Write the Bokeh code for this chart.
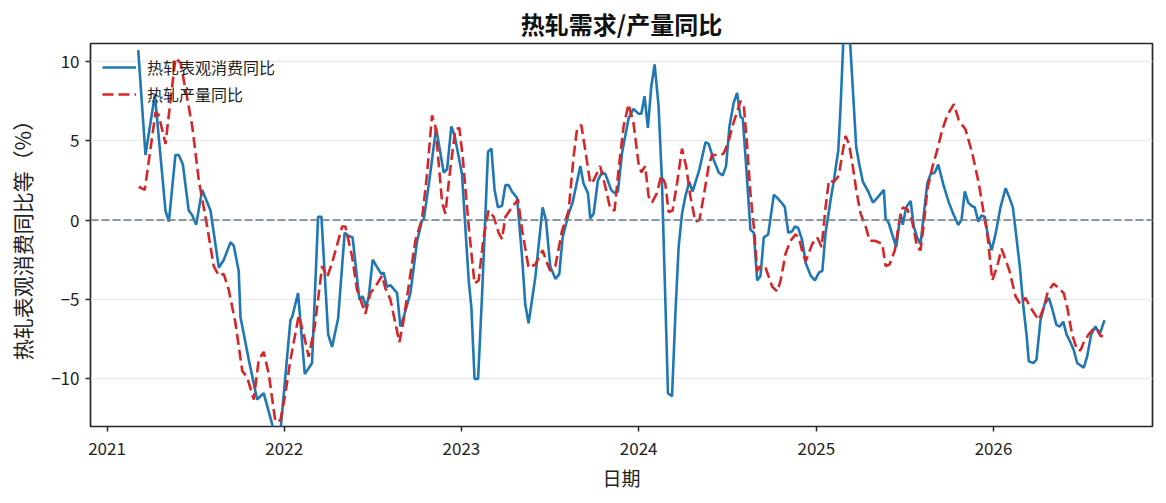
import pandas as pd
from bokeh.plotting import figure
from bokeh.models import ColumnDataSource, Span, FixedTicker, DatetimeTickFormatter, Range1d
from bokeh.embed import file_html
from bokeh.resources import INLINE

FONT = "Noto Sans CJK SC"

# 热轧表观消费同比: time as decimal year, value in %
consumption_t = [
    2021.176, 2021.217, 2021.270, 2021.330, 2021.349, 2021.386, 2021.405, 2021.428, 2021.461, 2021.481,
    2021.503, 2021.537, 2021.584, 2021.631, 2021.659, 2021.697, 2021.715, 2021.743, 2021.753, 2021.800,
    2021.847, 2021.884, 2021.933, 2021.973, 2022.035, 2022.045, 2022.078, 2022.116, 2022.157, 2022.191,
    2022.210, 2022.248, 2022.270, 2022.304, 2022.341, 2022.364, 2022.386, 2022.424, 2022.443, 2022.462,
    2022.477, 2022.499, 2022.548, 2022.561, 2022.580, 2022.599, 2022.637, 2022.655, 2022.674, 2022.712,
    2022.750, 2022.778, 2022.787, 2022.819, 2022.857, 2022.900, 2022.919, 2022.943, 2022.962, 2023.003,
    2023.041, 2023.056, 2023.074, 2023.094, 2023.116, 2023.150, 2023.169, 2023.187, 2023.206, 2023.229,
    2023.248, 2023.266, 2023.285, 2023.314, 2023.342, 2023.360, 2023.379, 2023.417, 2023.458, 2023.477,
    2023.501, 2023.530, 2023.552, 2023.571, 2023.605, 2023.627, 2023.671, 2023.689, 2023.714, 2023.727,
    2023.746, 2023.770, 2023.793, 2023.812, 2023.845, 2023.864, 2023.883, 2023.906, 2023.943, 2023.971,
    2023.999, 2024.015, 2024.033, 2024.052, 2024.071, 2024.090, 2024.112, 2024.131, 2024.146, 2024.165,
    2024.188, 2024.206, 2024.225, 2024.244, 2024.263, 2024.285, 2024.304, 2024.342, 2024.376, 2024.394,
    2024.422, 2024.451, 2024.473, 2024.492, 2024.511, 2024.535, 2024.554, 2024.573, 2024.586, 2024.605,
    2024.629, 2024.648, 2024.667, 2024.686, 2024.704, 2024.729, 2024.761, 2024.780, 2024.804, 2024.823,
    2024.842, 2024.865, 2024.879, 2024.898, 2024.921, 2024.940, 2024.968, 2024.992, 2025.015, 2025.034,
    2025.052, 2025.081, 2025.099, 2025.124, 2025.137, 2025.158, 2025.176, 2025.225, 2025.244, 2025.263,
    2025.293, 2025.319, 2025.344, 2025.381, 2025.391, 2025.409, 2025.428, 2025.451, 2025.475, 2025.488,
    2025.507, 2025.532, 2025.550, 2025.569, 2025.588, 2025.607, 2025.626, 2025.645, 2025.669, 2025.688,
    2025.720, 2025.748, 2025.776, 2025.801, 2025.819, 2025.838, 2025.857, 2025.876, 2025.894, 2025.914,
    2025.932, 2025.951, 2025.970, 2025.989, 2026.011, 2026.039, 2026.068, 2026.090, 2026.109, 2026.124,
    2026.148, 2026.167, 2026.186, 2026.199, 2026.224, 2026.242, 2026.265, 2026.288, 2026.312, 2026.331,
    2026.355, 2026.374, 2026.393, 2026.412, 2026.430, 2026.453, 2026.472, 2026.509, 2026.528, 2026.551,
    2026.575, 2026.599, 2026.626,
]
consumption_yoy = [
    10.7, 4.1, 7.9, 0.6, -0.1, 4.1, 4.1, 3.5, 0.6, 0.3,
    -0.3, 1.9, 0.6, -3.0, -2.5, -1.4, -1.6, -3.2, -6.1, -8.8,
    -11.3, -10.9, -12.9, -14.0, -6.3, -6.1, -4.6, -9.7, -9.0, 0.2,
    0.2, -7.2, -8.0, -6.2, -0.8, -1.0, -1.1, -5.0, -4.8, -5.5,
    -4.8, -2.5, -3.4, -3.3, -4.2, -4.1, -4.6, -6.7, -6.1, -4.6,
    -1.3, 0.0, 0.0, 2.5, 5.8, 3.0, 3.2, 5.9, 5.3, 2.9,
    -3.8, -5.5, -10.0, -10.0, -4.8, 4.3, 4.5, 1.9, 0.8, 0.9,
    2.2, 2.2, 1.8, 1.4, -2.3, -5.3, -6.5, -3.6, 0.8, 0.0,
    -2.9, -3.7, -3.4, -1.1, 0.4, 1.1, 3.4, 2.3, 1.7, 0.1,
    0.4, 2.5, 3.0, 2.9, 1.9, 1.7, 1.8, 4.2, 6.4, 7.0,
    6.7, 6.7, 7.8, 5.8, 8.4, 9.8, 7.2, 2.5, -3.4, -10.9,
    -11.1, -6.1, -1.7, 0.4, 1.5, 2.4, 1.8, 3.2, 4.9, 4.8,
    3.8, 3.0, 2.8, 3.4, 5.9, 7.4, 8.0, 6.5, 6.4, 3.4,
    -0.6, -0.8, -3.8, -3.5, -1.1, -0.9, 1.6, 1.4, 1.1, 0.8,
    -0.8, -0.7, -0.4, -0.5, -1.3, -2.7, -3.5, -3.8, -3.3, -3.2,
    -0.8, 1.3, 2.5, 4.4, 7.2, 12.8, 14.0, 4.6, 3.4, 2.4,
    1.8, 1.1, 1.4, 1.9, 0.1, -0.2, -0.9, -1.7, 0.4, -0.3,
    0.8, 1.2, -0.4, -1.1, -1.5, 0.4, 2.3, 2.9, 3.0, 3.5,
    2.1, 1.1, 0.3, -0.3, 0.0, 1.8, 1.1, 0.9, 0.8, -0.1,
    0.3, 0.2, -1.1, -1.9, -0.9, 0.8, 2.0, 1.4, 0.8, -0.6,
    -2.9, -5.3, -7.2, -8.9, -9.0, -8.8, -6.3, -5.3, -4.9, -5.6,
    -6.6, -6.7, -6.4, -7.2, -7.6, -8.2, -9.0, -9.3, -8.6, -7.2,
    -6.7, -7.2, -6.3,
]

# 热轧产量同比
output_t = [
    2021.179, 2021.213, 2021.274, 2021.292, 2021.330, 2021.386, 2021.415, 2021.452, 2021.481, 2021.518,
    2021.565, 2021.602, 2021.631, 2021.659, 2021.687, 2021.725, 2021.763, 2021.791, 2021.828, 2021.856,
    2021.884, 2021.913, 2021.950, 2021.979, 2022.007, 2022.035, 2022.082, 2022.110, 2022.138, 2022.172,
    2022.214, 2022.242, 2022.270, 2022.327, 2022.345, 2022.383, 2022.411, 2022.458, 2022.486, 2022.514,
    2022.552, 2022.571, 2022.599, 2022.650, 2022.674, 2022.712, 2022.740, 2022.778, 2022.806, 2022.834,
    2022.853, 2022.891, 2022.909, 2022.937, 2022.966, 2022.988, 2023.007, 2023.041, 2023.074, 2023.097,
    2023.125, 2023.153, 2023.182, 2023.210, 2023.229, 2023.248, 2023.285, 2023.319, 2023.342, 2023.379,
    2023.417, 2023.458, 2023.483, 2023.501, 2023.530, 2023.567, 2023.605, 2023.633, 2023.652, 2023.676,
    2023.699, 2023.727, 2023.746, 2023.783, 2023.812, 2023.840, 2023.864, 2023.887, 2023.915, 2023.943,
    2023.971, 2023.999, 2024.015, 2024.037, 2024.056, 2024.075, 2024.103, 2024.127, 2024.150, 2024.169,
    2024.191, 2024.216, 2024.244, 2024.267, 2024.291, 2024.319, 2024.342, 2024.366, 2024.394, 2024.413,
    2024.460, 2024.479, 2024.507, 2024.530, 2024.554, 2024.573, 2024.592, 2024.611, 2024.629, 2024.648,
    2024.667, 2024.686, 2024.714, 2024.752, 2024.780, 2024.799, 2024.827, 2024.855, 2024.883, 2024.902,
    2024.921, 2024.940, 2024.977, 2025.005, 2025.030, 2025.052, 2025.071, 2025.099, 2025.127, 2025.147,
    2025.165, 2025.184, 2025.203, 2025.225, 2025.250, 2025.278, 2025.301, 2025.330, 2025.372, 2025.391,
    2025.413, 2025.443, 2025.466, 2025.488, 2025.513, 2025.541, 2025.569, 2025.588, 2025.607, 2025.626,
    2025.654, 2025.682, 2025.711, 2025.739, 2025.776, 2025.804, 2025.842, 2025.880, 2025.917, 2025.945,
    2025.964, 2025.993, 2026.021, 2026.045, 2026.068, 2026.090, 2026.124, 2026.152, 2026.180, 2026.208,
    2026.255, 2026.284, 2026.306, 2026.340, 2026.368, 2026.396, 2026.416, 2026.443, 2026.472, 2026.491,
    2026.509, 2026.537, 2026.560, 2026.584, 2026.603, 2026.618,
]
output_yoy = [
    2.1, 1.9, 6.8, 6.6, 4.8, 10.2, 9.9, 7.7, 5.9, 2.5,
    -0.4, -2.9, -3.5, -3.4, -4.4, -6.5, -9.5, -9.9, -11.3, -8.8,
    -8.3, -9.7, -12.7, -12.6, -10.9, -8.8, -6.0, -7.2, -8.6, -6.7,
    -2.9, -3.6, -2.7, -0.4, -0.4, -2.3, -4.4, -5.9, -4.6, -4.2,
    -3.5, -4.3, -5.0, -7.7, -6.3, -3.4, -1.3, 0.1, 2.9, 6.6,
    5.9, 1.1, 0.4, 3.2, 5.7, 5.8, 4.0, -0.4, -4.0, -3.8,
    -1.1, 0.6, 0.2, -0.8, -1.2, 0.2, 0.8, 1.3, -0.6, -3.0,
    -2.8, -1.9, -2.7, -3.2, -2.9, -0.7, 0.6, 4.0, 5.7, 6.0,
    4.4, 2.3, 2.5, 3.4, 2.1, 0.7, 0.6, 3.2, 5.9, 7.3,
    6.1, 3.6, 3.0, 3.4, 1.5, 1.1, 1.7, 2.8, 2.3, 0.5,
    0.6, 2.3, 4.5, 3.4, 1.5, -0.1, 0.0, 1.5, 3.4, 4.1,
    4.1, 4.2, 5.0, 6.0, 6.8, 7.5, 7.2, 4.6, 1.7, -0.4,
    -3.2, -2.9, -3.0, -4.2, -4.5, -3.8, -2.1, -1.3, -0.9, -1.1,
    -2.0, -2.6, -1.5, -1.1, -1.7, 0.8, 2.5, 2.4, 2.8, 4.2,
    5.3, 4.8, 3.6, 1.9, 0.4, -0.4, -1.3, -1.3, -1.5, -2.9,
    -2.8, -1.9, -0.2, 0.8, 0.7, -0.1, -1.7, -1.9, -0.2, 1.9,
    3.3, 4.4, 5.7, 6.6, 7.3, 6.3, 5.7, 4.2, 2.3, 0.4,
    -0.8, -3.8, -2.9, -1.8, -2.5, -3.2, -4.8, -5.3, -4.9, -5.5,
    -6.3, -5.5, -4.5, -4.0, -4.3, -4.6, -5.5, -7.2, -8.2, -8.2,
    -7.7, -7.2, -6.9, -6.8, -7.3, -7.3,
]

year_ticks = [2021, 2022, 2023, 2024, 2025, 2026]
y_ticks = [-10, -5, 0, 5, 10]


def to_dates(ts):
    out = []
    for t in ts:
        y = int(t)
        start = pd.Timestamp(year=y, month=1, day=1)
        end = pd.Timestamp(year=y + 1, month=1, day=1)
        out.append(start + (t - y) * (end - start))
    return out


def make_plot():
    x_lo, x_hi = to_dates([2020.907, 2026.897])
    p = figure(width=1166, height=503, x_axis_type="datetime",
               x_range=Range1d(x_lo, x_hi), y_range=Range1d(-13.0, 11.12),
               output_backend="svg", toolbar_location=None,
               min_border_left=90, min_border_right=14, min_border_top=43, min_border_bottom=77,
               title="热轧需求/产量同比")

    p.title.align = "center"
    p.title.text_font = FONT
    p.title.text_font_size = "24px"
    p.title.text_font_style = "bold"
    p.title.text_color = "#111111"
    p.title.standoff = 5
    p.title.text_line_height = 1.0

    zero = Span(location=0, dimension="width", line_color="#6c7a89", line_dash="8 3",
                line_width=1.5, level="glyph")
    p.add_layout(zero)

    blue = ColumnDataSource(dict(x=to_dates(consumption_t), y=consumption_yoy))
    red = ColumnDataSource(dict(x=to_dates(output_t), y=output_yoy))
    p.line("x", "y", source=blue, line_color="#1f77b4", line_width=2.6,
           legend_label="热轧表观消费同比")
    p.line("x", "y", source=red, line_color="#d62728", line_width=2.6, line_dash="11 5",
           legend_label="热轧产量同比")

    p.xaxis.ticker = FixedTicker(ticks=[pd.Timestamp(year=y, month=1, day=1).value // 10**6
                                        for y in year_ticks])
    p.xaxis.formatter = DatetimeTickFormatter(years="%Y", months="%Y", days="%Y", hours="%Y")
    p.yaxis.ticker = FixedTicker(ticks=y_ticks)

    p.xaxis.axis_label = "日期"
    p.yaxis.axis_label = "热轧表观消费同比等（%）"
    for ax in (p.xaxis, p.yaxis):
        ax.axis_line_color = None
        ax.major_tick_line_color = "#262626"
        ax.major_tick_line_width = 1.5
        ax.major_tick_out = 5
        ax.major_tick_in = 0
        ax.minor_tick_line_color = None
        ax.major_label_text_font = FONT
        ax.major_label_text_font_size = "17px"
        ax.major_label_text_color = "#222222"
        ax.major_label_text_line_height = 1.0
        ax.axis_label_text_font = FONT
        ax.axis_label_text_font_style = "normal"
        ax.axis_label_text_color = "#222222"
        ax.axis_label_text_line_height = 1.0
    p.xaxis.axis_label_text_font_size = "19px"
    p.yaxis.axis_label_text_font_size = "21px"
    p.xaxis.major_label_standoff = 10
    p.xaxis.axis_label_standoff = 6
    p.yaxis.major_label_standoff = 6
    p.yaxis.axis_label_standoff = 11

    p.xgrid.grid_line_color = None
    p.ygrid.grid_line_color = "#ebebeb"
    p.ygrid.grid_line_width = 1.5

    p.outline_line_color = "#262626"
    p.outline_line_width = 1.7
    p.outline_line_alpha = 1.0

    p.legend.location = "top_left"
    p.legend.margin = 1
    p.legend.padding = 11
    p.legend.spacing = 3
    p.legend.label_height = 23
    p.legend.glyph_width = 34
    p.legend.label_standoff = 11
    p.legend.label_text_font = FONT
    p.legend.label_text_font_size = "16px"
    p.legend.label_text_line_height = 1.0
    p.legend.label_text_color = "#222222"
    p.legend.background_fill_alpha = 0
    p.legend.border_line_alpha = 0
    return p


p = make_plot()
open("out.html", "w").write(file_html(p, INLINE))
